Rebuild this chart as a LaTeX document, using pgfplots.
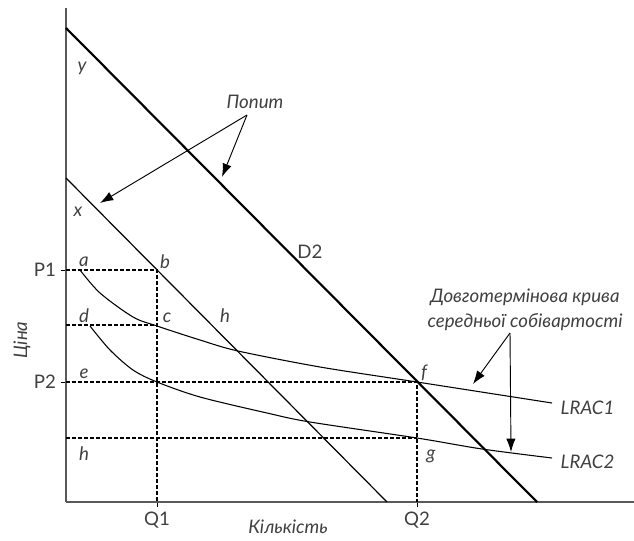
\documentclass[border=0pt]{standalone}
\usepackage{pgfplots}
\pgfplotsset{compat=1.18}
\usepackage{fontspec}
\setmainfont{Lato}
\usetikzlibrary{arrows.meta}
\begin{document}
\begin{tikzpicture}[font=\fontsize{13}{15}\selectfont, text=black!75,
  lbl/.style={font=\fontsize{14}{16}\selectfont\itshape}]
\begin{axis}[
  x=0.75pt, y=0.75pt, scale only axis,
  xmin=0, xmax=568, ymin=0, ymax=494,
  axis lines=left,
  axis line style={-, line width=1.6pt, black!65},
  xtick={91,351}, xticklabels={Q1,Q2},
  ytick={232,120}, yticklabels={P1,P2},
  tick align=outside, major tick length=4pt,
  tick style={black, line width=0.6pt},
  xticklabel style={font=\fontsize{14}{16}\selectfont, text=black!75},
  yticklabel style={font=\fontsize{14}{16}\selectfont, text=black!75},
  clip=false,
]
% demand curves
\addplot[line width=1.6pt, black] coordinates {(0,474) (471,0)};
\addplot[line width=0.9pt, black] coordinates {(0,324) (321,0)};
% LRAC curves
\addplot[line width=0.8pt, black, smooth] coordinates {(14,232) (34,209) (67,185) (91,176) (134,162) (172,151) (254,135) (351,120) (486,99)};
\addplot[line width=0.8pt, black, smooth] coordinates {(24,176) (44,152) (67,132) (91,120) (134,105) (201,89) (244,80) (351,64) (416,53) (486,44)};
% dashed guide lines
\addplot[line width=0.8pt, black, dash pattern=on 3pt off 1.5pt] coordinates {(0,232) (91,232) (91,0)};
\addplot[line width=0.8pt, black, dash pattern=on 3pt off 1.5pt] coordinates {(0,177) (91,177)};
\addplot[line width=0.8pt, black, dash pattern=on 3pt off 1.5pt] coordinates {(0,120) (351,120) (351,0)};
\addplot[line width=0.8pt, black, dash pattern=on 3pt off 1.5pt] coordinates {(0,64) (351,64)};
% point labels
\node[lbl] at (axis cs:16,434) {y};
\node[lbl] at (axis cs:12,290) {x};
\node[lbl] at (axis cs:18,240) {a};
\node[lbl] at (axis cs:99,240) {b};
\node[lbl] at (axis cs:101,184) {c};
\node[lbl] at (axis cs:18,186) {d};
\node[lbl] at (axis cs:18,128) {e};
\node[lbl] at (axis cs:18,48) {h};
\node[lbl] at (axis cs:159,186) {h};
\node[lbl] at (axis cs:358,129) {f};
\node[lbl] at (axis cs:365,46) {g};
\node[font=\fontsize{14}{16}\selectfont] at (axis cs:244,250) {D2};
\node[lbl] at (axis cs:189,400) {Попит};
\node[lbl] at (axis cs:459,205) {Довготермінова крива};
\node[lbl] at (axis cs:459,180) {середньої собівартості};
\node[lbl, anchor=west] at (axis cs:490,94) {LRAC1};
\node[lbl, anchor=west] at (axis cs:490,40) {LRAC2};
\node[lbl] at (axis cs:222,-25) {Кількість};
\node[lbl, rotate=90] at (axis cs:-44,162) {Ціна};
% arrows
\draw[black, line width=0.7pt, -{Latex[length=10pt,width=7pt]}] (axis cs:181,387) -- (axis cs:34,299);
\draw[black, line width=0.7pt, -{Latex[length=10pt,width=7pt]}] (axis cs:181,387) -- (axis cs:156,325);
\draw[black, line width=0.7pt, -{Latex[length=10pt,width=7pt]}] (axis cs:444,169) -- (axis cs:407,118);
\draw[black, line width=0.7pt, -{Latex[length=10pt,width=7pt]}] (axis cs:444,169) -- (axis cs:445,50);
\coordinate (ll) at (axis cs:-66,-38);
\coordinate (ur) at (axis cs:568,502);
\end{axis}
\pgfresetboundingbox
\path[use as bounding box] (ll) rectangle (ur);
\end{tikzpicture}
\end{document}
